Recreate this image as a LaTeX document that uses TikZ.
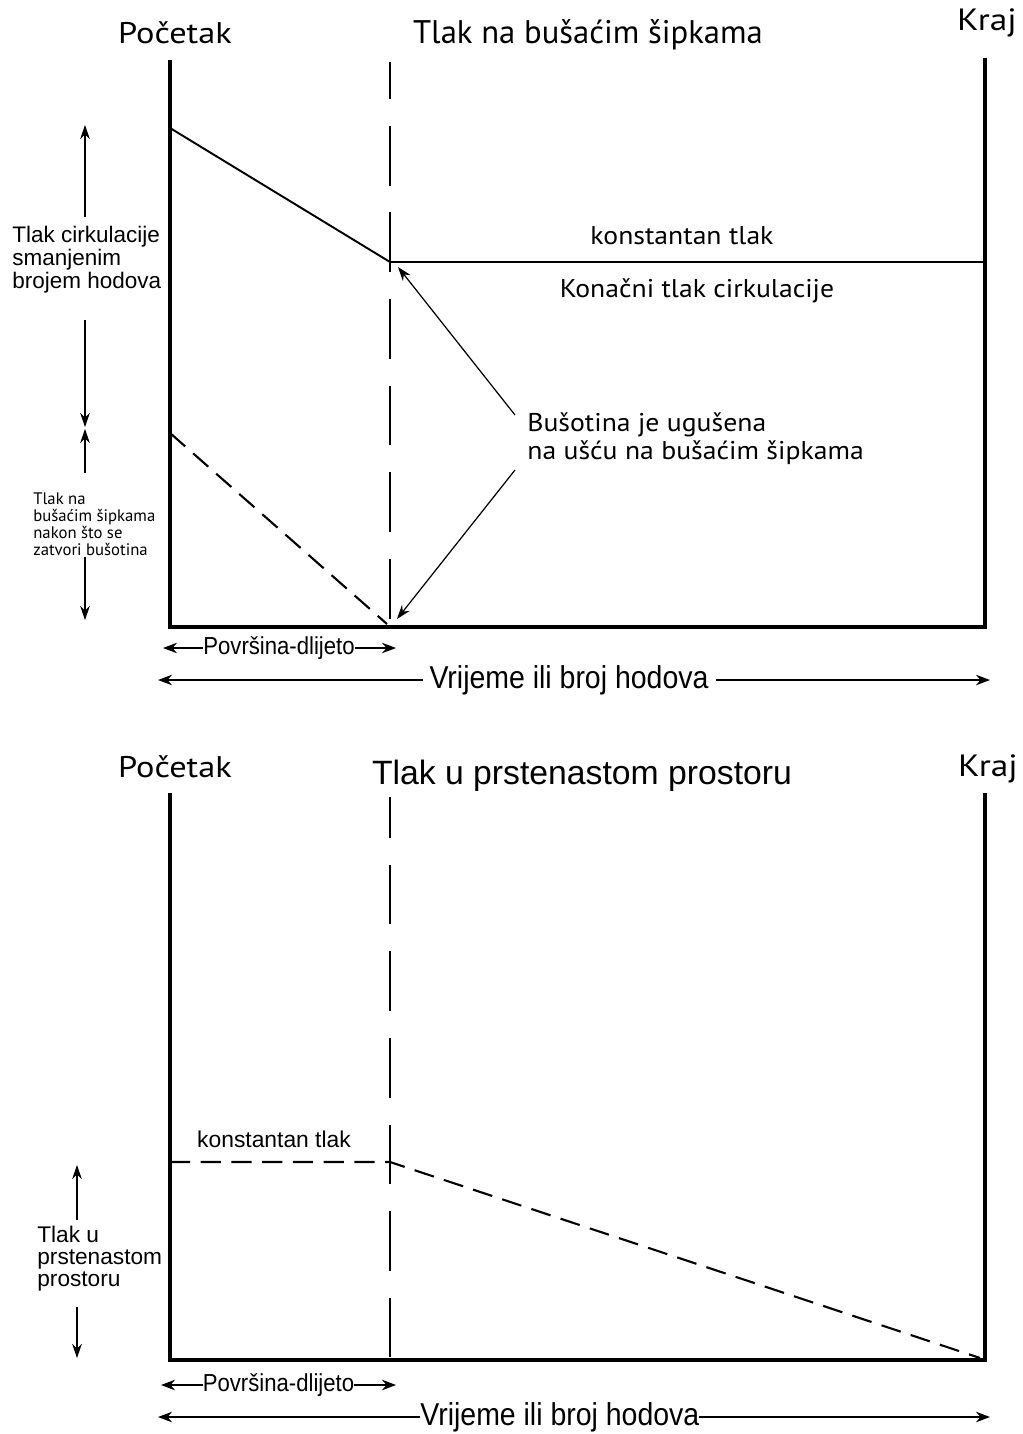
\documentclass[tikz,border=0pt]{standalone}
\usepackage{fontspec}
\setmainfont{PT Sans}
\newfontfamily\widefont[FakeStretch=1.15]{PT Sans}
\newfontfamily\lblfont[FakeStretch=1.08]{PT Sans}
\newfontfamily\arialfont{Liberation Sans}
\newfontfamily\narrowfont[FakeStretch=0.9]{Liberation Sans}
\usetikzlibrary{arrows.meta, positioning, calc}
\tikzset{
  axis/.style={line width=2.8pt, line cap=rect},
  split/.style={line width=1.6pt, dash pattern=on 34pt off 15.3pt},
  curve/.style={line width=1.1pt},
  dcurve/.style={line width=1.2pt, dash pattern=on 11.5pt off 6pt},
  arr/.style={-{Stealth[length=8pt,width=5.5pt]}, line width=0.7pt},
  darr/.style={{Stealth[length=8pt,width=6pt]}-{Stealth[length=8pt,width=6pt]}, line width=0.7pt}
}

\begin{document}
\begin{tikzpicture}[x=0.02cm, y=-0.02cm,
  head/.style={font=\widefont\fontsize{17}{20}\selectfont, inner sep=0pt},
  ttl/.style={font=\fontsize{18.6}{22}\selectfont, inner sep=0pt},
  lbl/.style={font=\lblfont\fontsize{14.6}{16}\selectfont, inner sep=0pt},
  side/.style={font=\arialfont\fontsize{12.8}{13}\selectfont, align=left, anchor=west, inner sep=0pt},
  tiny/.style={font=\fontsize{9.5}{9.6}\selectfont, align=left, anchor=west, inner sep=0pt},
  span/.style={font=\narrowfont\fontsize{18}{20}\selectfont, fill=white},
  sspan/.style={font=\narrowfont\fontsize{14}{15}\selectfont, fill=white, inner sep=0pt}
]
\useasboundingbox (0,0) rectangle (1023,1434);

%--- TOP chart: drill pipe pressure ---
\node[head] (start1) at (175,33) {Početak};
\node[ttl] (title1) at (588,35) {Tlak na bušaćim šipkama};
\node[head, font=\widefont\fontsize{17.5}{20}\selectfont] (end1) at (987,23) {Kraj};

\coordinate (tl) at (170,62);
\coordinate (bl) at (170,627);
\coordinate (br) at (985,627);
\coordinate (tr) at (985,60);
\coordinate (mt) at (390,62);
\coordinate (mb) at (390,627);
\draw[axis] (tl) -- (bl) -- (br) -- (tr);
\draw[split, dash phase=13pt] (mt) -- (mb);

% circulating pressure
\coordinate (icp) at (170,128);
\coordinate (fcp) at (390,262);
\coordinate (fcpe) at (985,262);
\draw[curve] (icp) -- (fcp) -- (fcpe);
% shut-in pressure
\coordinate (sidp) at (170,433);
\coordinate (zero) at (387,624);
\draw[dcurve] (sidp) -- (zero);

\node[lbl] (const1) at (682,236) {konstantan tlak};
\node[lbl] (fcplbl) at (697,291) {Konačni tlak cirkulacije};
\node[lbl, align=left, anchor=west, font=\lblfont\fontsize{14.6}{16}\selectfont] (killed) at (527,439)
  {Bušotina je ugušena\\na ušću na bušaćim šipkama};
\coordinate (k1) at (515,415);
\coordinate (k2) at (515,470);
\draw[arr] (k1) -- (398,267);
\draw[arr] (k2) -- (397,619);

% left annotations
\node[side] (circ) at (12,260) {Tlak cirkulacije\\smanjenim\\brojem hodova};
\coordinate (a1) at (85,217); \coordinate (a1t) at (85,125);
\coordinate (a2) at (85,320); \coordinate (a2t) at (85,427);
\draw[arr] (a1) -- (a1t);
\draw[arr] (a2) -- (a2t);
\node[tiny] (shut) at (33,524) {Tlak na\\bušaćim šipkama\\nakon što se\\zatvori bušotina};
\coordinate (a3) at (85,473); \coordinate (a3t) at (85,429);
\coordinate (a4) at (85,557); \coordinate (a4t) at (85,620);
\draw[arr] (a3) -- (a3t);
\draw[arr] (a4) -- (a4t);

% time axes
\coordinate (s1l) at (163,648); \coordinate (s1r) at (396,648);
\draw[darr] (s1l) -- node[sspan, pos=0.498] (surf1) {Površina-dlijeto} (s1r);
\coordinate (t1l) at (158,680); \coordinate (t1r) at (990,680);
\draw[darr] (t1l) -- node[span, pos=0.494, inner sep=4pt] (time1) {Vrijeme ili broj hodova} (t1r);

%--- BOTTOM chart: annulus pressure ---
\node[head] (start2) at (175,767) {Početak};
\node[ttl, font=\arialfont\fontsize{19.2}{22}\selectfont] (title2) at (582,776) {Tlak u prstenastom prostoru};
\node[head, font=\widefont\fontsize{17.5}{20}\selectfont] (end2) at (988,769) {Kraj};

\coordinate (tl2) at (170,795);
\coordinate (bl2) at (170,1360);
\coordinate (br2) at (985,1360);
\coordinate (tr2) at (985,795);
\coordinate (mt2) at (390,797);
\coordinate (mb2) at (390,1360);
\draw[axis] (tl2) -- (bl2) -- (br2) -- (tr2);
\draw[split, dash phase=10.8pt] (mt2) -- (mb2);

\coordinate (cp0) at (170,1162);
\coordinate (cp1) at (390,1162);
\coordinate (cp2) at (980,1358);
\draw[dcurve] (cp0) -- (cp1) -- (cp2);
\node[font=\arialfont\fontsize{13}{14}\selectfont, inner sep=0pt] (const2) at (274,1139) {konstantan tlak};

\node[side, font=\arialfont\fontsize{12.9}{12.5}\selectfont] (annul) at (37,1259) {Tlak u\\prstenastom\\prostoru};
\coordinate (b1) at (77,1220); \coordinate (b1t) at (77,1165);
\coordinate (b2) at (77,1307); \coordinate (b2t) at (77,1358);
\draw[arr] (b1) -- (b1t);
\draw[arr] (b2) -- (b2t);

\coordinate (s2l) at (161,1385); \coordinate (s2r) at (396,1385);
\draw[darr] (s2l) -- node[sspan] (surf2) {Površina-dlijeto} (s2r);
\coordinate (t2l) at (158,1417); \coordinate (t2r) at (990,1417);
\draw[darr] (t2l) -- node[span, pos=0.483, inner sep=0pt] (time2) {Vrijeme ili broj hodova} (t2r);
\end{tikzpicture}
\end{document}
